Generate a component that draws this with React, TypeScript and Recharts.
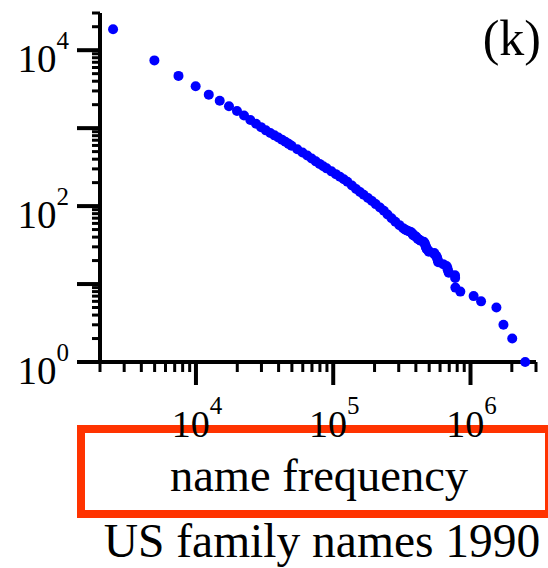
import React from "react";
import { ScatterChart, Scatter, XAxis, YAxis, Customized } from "recharts";

// Distinct name frequencies (people per surname) and the number of
// surnames whose frequency is at least that large.
const nameFrequency: number[] = [
  2490, 4980, 7460, 9950, 12400, 14900, 17400, 19900, 22400, 24900,
  27400, 29800, 32300, 34800, 37300, 39800, 42300, 44800, 47300, 49700,
  54700, 59700, 64700, 69600, 74600, 79600, 84600, 89500, 97000, 104500,
  111900, 119400, 126800, 136800, 146700, 156700, 166600, 179100, 191500, 203900,
  218900, 233800, 248700, 266100, 283500, 303400, 323300,
  333000, 341000, 351000, 363000, 371000, 378000, 381000, 385000, 398000, 403000,
  413000, 425000, 433000, 455000, 460000, 465000, 470000, 473000, 478000, 480000,
  495000, 497000, 545000, 547000, 562000, 570000, 574000, 579000, 582000, 632000,
  669000, 679000, 684000, 694000, 771000, 773000, 776000, 843000, 1054000, 1194000,
  1544000, 1738000, 2014000, 2502000,
];

const namesAtLeast: number[] = [
  18600, 7400, 4680, 3450, 2690, 2250, 1910, 1660, 1450, 1270,
  1140, 1030, 937, 868, 808, 760, 712, 669, 629, 595,
  535, 487, 445, 408, 375, 348, 325, 305, 279, 257,
  238, 221, 205, 184, 166, 152, 140, 127, 116, 106,
  96, 87, 78, 70, 63, 57, 52,
  50, 49, 48, 47, 46, 44, 43, 42, 41, 40,
  38, 37, 36, 35, 34, 33, 31, 30, 29, 28,
  27, 26, 25, 24, 23, 22, 21, 20, 19, 18,
  17, 16, 15, 14, 13, 12, 9, 8, 7, 6,
  5, 3, 2, 1,
];

const xTicks: number[] = [
  2000, 3000, 4000, 5000, 6000, 7000, 8000, 9000,
  10000, 20000, 30000, 40000, 50000, 60000, 70000, 80000, 90000,
  100000, 200000, 300000, 400000, 500000, 600000, 700000, 800000, 900000,
  1000000, 2000000, 3000000,
];
const xLabelled: number[] = [10000, 100000, 1000000];

const yTicks: number[] = [
  1, 2, 3, 4, 5, 6, 7, 8, 9,
  10, 20, 30, 40, 50, 60, 70, 80, 90,
  100, 200, 300, 400, 500, 600, 700, 800, 900,
  1000, 2000, 3000, 4000, 5000, 6000, 7000, 8000, 9000,
  10000, 20000, 30000,
];
const yLabelled: number[] = [1, 100, 10000];

const panelTag = "(k)";
const axisTitle = "name frequency";
const caption = "US family names 1990";

const data = nameFrequency.map((f, i) => ({ freq: f, count: namesAtLeast[i] }));

const SERIF = "'Liberation Serif', 'Times New Roman', 'DejaVu Serif', serif";
const DOT = "#0000ff";

const isDecade = (v: number) => {
  const l = Math.log10(v);
  return Math.abs(l - Math.round(l)) < 1e-9;
};

const XTick = (props: any) => {
  const { x, y, payload } = props;
  const v = payload.value as number;
  const major = isDecade(v);
  const exp = Math.round(Math.log10(v));
  return (
    <g>
      <line
        x1={x}
        x2={x}
        y1={y}
        y2={y + (major ? 23 : 10)}
        stroke="#000"
        strokeWidth={major ? 4 : 3}
      />
      {xLabelled.includes(v) && (
        <text x={x + 1} y={y + 75} textAnchor="middle" fontFamily={SERIF} fill="#000">
          <tspan fontSize={38}>10</tspan>
          <tspan fontSize={25} dy={-23}>{exp}</tspan>
        </text>
      )}
    </g>
  );
};

const YTick = (props: any) => {
  const { x, y, payload } = props;
  const v = payload.value as number;
  const major = isDecade(v);
  const exp = Math.round(Math.log10(v));
  return (
    <g>
      <line
        x1={x - (major ? 23 : 8)}
        x2={x}
        y1={y}
        y2={y}
        stroke="#000"
        strokeWidth={major ? 4 : 3}
      />
      {yLabelled.includes(v) && (
        <text x={x - 31} y={y + 22} textAnchor="end" fontFamily={SERIF} fill="#000">
          <tspan fontSize={39}>10</tspan>
          <tspan fontSize={25} dy={-23}>{exp}</tspan>
        </text>
      )}
    </g>
  );
};

const Dot = (props: any) => <circle cx={props.cx} cy={props.cy} r={5} fill={DOT} />;

const Annotations = () => (
  <g>
    <text x={541} y={55} textAnchor="end" fontFamily={SERIF} fontSize={50} fill="#000">
      {panelTag}
    </text>
    <text x={319} y={491} textAnchor="middle" fontFamily={SERIF} fontSize={46.5} fill="#000">
      {axisTitle}
    </text>
    <rect x={81} y={429} width={468} height={85} fill="none" stroke="#ff3300" strokeWidth={8} />
    <text x={322} y={557} textAnchor="middle" fontFamily={SERIF} fontSize={47.5} fill="#000">
      {caption}
    </text>
  </g>
);

export default function App() {
  return (
    <div style={{ position: "absolute", left: 0, top: 0, width: 548, height: 568, background: "#fff" }}>
      <ScatterChart width={548} height={568} margin={{ top: 13, right: 12, bottom: 0, left: 0 }}>
        <XAxis
          type="number"
          dataKey="freq"
          scale="log"
          domain={[2000, 3000000]}
          ticks={xTicks}
          interval={0}
          tickSize={0}
          tickMargin={0}
          tickLine={false}
          tick={<XTick />}
          height={206}
          axisLine={{ stroke: "#000", strokeWidth: 4 }}
        />
        <YAxis
          type="number"
          dataKey="count"
          scale="log"
          domain={[1, 30000]}
          ticks={yTicks}
          interval={0}
          tickSize={0}
          tickMargin={0}
          tickLine={false}
          tick={<YTick />}
          width={100}
          axisLine={{ stroke: "#000", strokeWidth: 4 }}
        />
        <Scatter data={data} shape={<Dot />} isAnimationActive={false} />
        <Customized component={Annotations} />
      </ScatterChart>
    </div>
  );
}
